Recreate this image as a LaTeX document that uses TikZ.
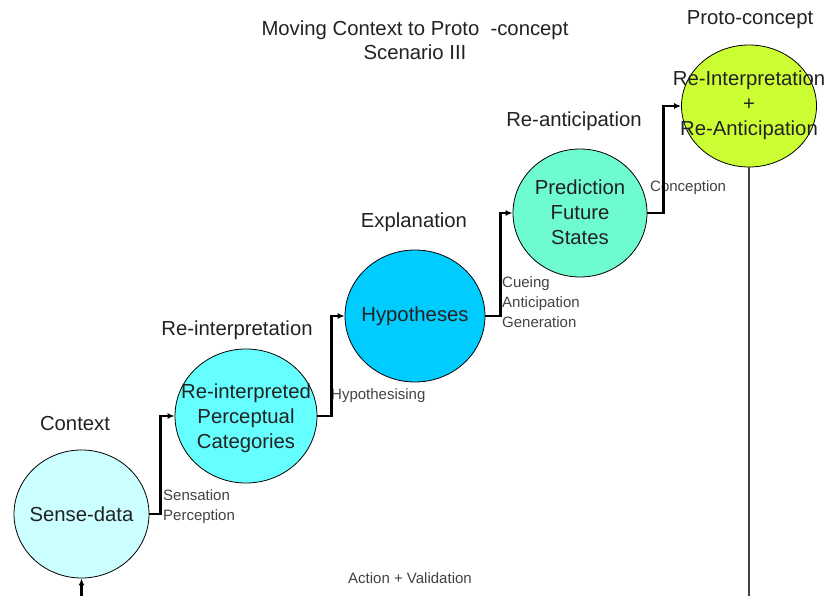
\documentclass[tikz,border=0pt]{standalone}
\usepackage{fontspec}
\setmainfont{Liberation Sans}
\usetikzlibrary{shapes.geometric,arrows.meta}
\definecolor{cA}{HTML}{CCFFFF}
\definecolor{cB}{HTML}{66FFFF}
\definecolor{cC}{HTML}{00CCFF}
\definecolor{cD}{HTML}{6EFBCF}
\definecolor{cE}{HTML}{CCFF33}
\definecolor{txt}{HTML}{222222}
\tikzset{
  blob/.style={ellipse, draw=black, line width=0.8pt, inner sep=0pt},
  blobtext/.style={inner sep=0pt, align=center, text=txt, font=\fontsize{20.3}{25}\selectfont},
  heading/.style={text=txt, font=\fontsize{20.3}{24}\selectfont, inner sep=0pt, align=center},
  small/.style={text=txt!85, font=\fontsize{15}{20}\selectfont, inner sep=0pt, align=left, anchor=west},
  conn/.style={line width=2.2pt, black, -{Latex[length=7pt,width=6pt]}},
  plain/.style={line width=1.3pt, black!75}
}
\begin{document}
\begin{tikzpicture}[x=1pt,y=-1pt]
\useasboundingbox[fill=white] (0,0) rectangle (827,596);
% circles
\node[blob, fill=cA, minimum width=135pt, minimum height=128pt] (c1) at (81.5,514) {};
\node[blob, fill=cB, minimum width=142pt, minimum height=134pt] (c2) at (246,416) {};
\node[blob, fill=cC, minimum width=140pt, minimum height=132pt] (c3) at (415,316) {};
\node[blob, fill=cD, minimum width=134pt, minimum height=128pt] (c4) at (580,213) {};
\node[blob, fill=cE, minimum width=135pt, minimum height=122pt] (c5) at (749,106) {};
\node[blobtext] (t1) at (c1.center) {Sense-data};
\node[blobtext] (t2) at ([yshift=-2pt]c2.center) {Re-interpreted\\Perceptual\\Categories};
\node[blobtext] (t3) at (c3.center) {Hypotheses};
\node[blobtext] (t4) at ([yshift=1pt]c4.center) {Prediction\\Future\\States};
\node[blobtext] (t5) at ([yshift=1pt]c5.center) {Re-Interpretation\\+\\Re-Anticipation};
% headings
\node[heading] (title) at (415,40) {Moving Context to Proto\ \ -concept\\Scenario III};
\node[heading] (h1) at (75,424) {Context};
\node[heading] (h2) at (237,330) {Re-interpretation};
\node[heading] (h3) at (414,222) {Explanation};
\node[heading] (h4) at (574,121) {Re-anticipation};
\node[heading] (h5) at (750,20) {Proto-concept};
% small labels
\node[small] (l1) at (163,507) {Sensation\\Perception};
\node[small] (l2) at (331,396) {Hypothesising};
\node[small] (l3) at (502,302) {Cueing\\Anticipation\\Generation};
\node[small] (l4) at (650,188) {Conception};
\node[small, anchor=center] (l5) at (410,578) {Action + Validation};
% connectors
\draw[conn] (c1.east) -- ++(11,0) |- (c2.west);
\draw[conn] (c2.east) -- ++(14,0) |- (c3.west);
\draw[conn] (c3.east) -- ++(15,0) |- (c4.west);
\draw[conn] (c4.east) -- ++(16,0) |- (c5.west);
\coordinate (bot1) at (81.5,600);
\draw[conn] (bot1) -- (c1.south);
\coordinate (bot5) at (749,600);
\draw[plain] (c5.south) -- (bot5);
\end{tikzpicture}
\end{document}
